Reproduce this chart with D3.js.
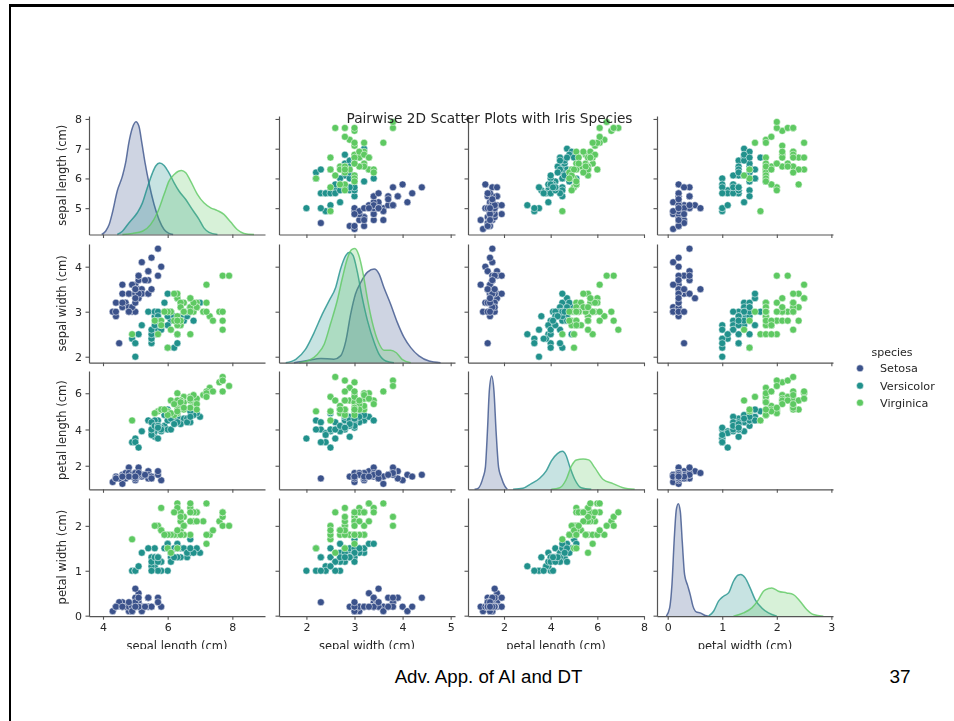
<!DOCTYPE html>
<html>
<head>
<meta charset="utf-8">
<script src="https://d3js.org/d3.v7.min.js"></script>
<style>
  html, body { margin: 0; padding: 0; background: #fff; }
  svg { display: block; }
  text { font-family: "DejaVu Sans", sans-serif; fill: #262626; }
</style>
</head>
<body>
<div id="chart"></div>
<script>
// iris measurements, one array per species and variable
const setosaSepalLength = [5.1,4.9,4.7,4.6,5.0,5.4,4.6,5.0,4.4,4.9,5.4,4.8,4.8,4.3,5.8,5.7,5.4,5.1,5.7,5.1,5.4,5.1,4.6,5.1,4.8,5.0,5.0,5.2,5.2,4.7,4.8,5.4,5.2,5.5,4.9,5.0,5.5,4.9,4.4,5.1,5.0,4.5,4.4,5.0,5.1,4.8,5.1,4.6,5.3,5.0];
const setosaSepalWidth = [3.5,3.0,3.2,3.1,3.6,3.9,3.4,3.4,2.9,3.1,3.7,3.4,3.0,3.0,4.0,4.4,3.9,3.5,3.8,3.8,3.4,3.7,3.6,3.3,3.4,3.0,3.4,3.5,3.4,3.2,3.1,3.4,4.1,4.2,3.1,3.2,3.5,3.6,3.0,3.4,3.5,2.3,3.2,3.5,3.8,3.0,3.8,3.2,3.7,3.3];
const setosaPetalLength = [1.4,1.4,1.3,1.5,1.4,1.7,1.4,1.5,1.4,1.5,1.5,1.6,1.4,1.1,1.2,1.5,1.3,1.4,1.7,1.5,1.7,1.5,1.0,1.7,1.9,1.6,1.6,1.5,1.4,1.6,1.6,1.5,1.5,1.4,1.5,1.2,1.3,1.4,1.3,1.5,1.3,1.3,1.3,1.6,1.9,1.4,1.6,1.4,1.5,1.4];
const setosaPetalWidth = [0.2,0.2,0.2,0.2,0.2,0.4,0.3,0.2,0.2,0.1,0.2,0.2,0.1,0.1,0.2,0.4,0.4,0.3,0.3,0.3,0.2,0.4,0.2,0.5,0.2,0.2,0.4,0.2,0.2,0.2,0.2,0.4,0.1,0.2,0.2,0.2,0.2,0.1,0.2,0.2,0.3,0.3,0.2,0.6,0.4,0.3,0.2,0.2,0.2,0.2];

const versicolorSepalLength = [7.0,6.4,6.9,5.5,6.5,5.7,6.3,4.9,6.6,5.2,5.0,5.9,6.0,6.1,5.6,6.7,5.6,5.8,6.2,5.6,5.9,6.1,6.3,6.1,6.4,6.6,6.8,6.7,6.0,5.7,5.5,5.5,5.8,6.0,5.4,6.0,6.7,6.3,5.6,5.5,5.5,6.1,5.8,5.0,5.6,5.7,5.7,6.2,5.1,5.7];
const versicolorSepalWidth = [3.2,3.2,3.1,2.3,2.8,2.8,3.3,2.4,2.9,2.7,2.0,3.0,2.2,2.9,2.9,3.1,3.0,2.7,2.2,2.5,3.2,2.8,2.5,2.8,2.9,3.0,2.8,3.0,2.9,2.6,2.4,2.4,2.7,2.7,3.0,3.4,3.1,2.3,3.0,2.5,2.6,3.0,2.6,2.3,2.7,3.0,2.9,2.9,2.5,2.8];
const versicolorPetalLength = [4.7,4.5,4.9,4.0,4.6,4.5,4.7,3.3,4.6,3.9,3.5,4.2,4.0,4.7,3.6,4.4,4.5,4.1,4.5,3.9,4.8,4.0,4.9,4.7,4.3,4.4,4.8,5.0,4.5,3.5,3.8,3.7,3.9,5.1,4.5,4.5,4.7,4.4,4.1,4.0,4.4,4.6,4.0,3.3,4.2,4.2,4.2,4.3,3.0,4.1];
const versicolorPetalWidth = [1.4,1.5,1.5,1.3,1.5,1.3,1.6,1.0,1.3,1.4,1.0,1.5,1.0,1.4,1.3,1.4,1.5,1.0,1.5,1.1,1.8,1.3,1.5,1.2,1.3,1.4,1.4,1.7,1.5,1.0,1.1,1.0,1.2,1.6,1.5,1.6,1.5,1.3,1.3,1.3,1.2,1.4,1.2,1.0,1.3,1.2,1.3,1.3,1.1,1.3];

const virginicaSepalLength = [6.3,5.8,7.1,6.3,6.5,7.6,4.9,7.3,6.7,7.2,6.5,6.4,6.8,5.7,5.8,6.4,6.5,7.7,7.7,6.0,6.9,5.6,7.7,6.3,6.7,7.2,6.2,6.1,6.4,7.2,7.4,7.9,6.4,6.3,6.1,7.7,6.3,6.4,6.0,6.9,6.7,6.9,5.8,6.8,6.7,6.7,6.3,6.5,6.2,5.9];
const virginicaSepalWidth = [3.3,2.7,3.0,2.9,3.0,3.0,2.5,2.9,2.5,3.6,3.2,2.7,3.0,2.5,2.8,3.2,3.0,3.8,2.6,2.2,3.2,2.8,2.8,2.7,3.3,3.2,2.8,3.0,2.8,3.0,2.8,3.8,2.8,2.8,2.6,3.0,3.4,3.1,3.0,3.1,3.1,3.1,2.7,3.2,3.3,3.0,2.5,3.0,3.4,3.0];
const virginicaPetalLength = [6.0,5.1,5.9,5.6,5.8,6.6,4.5,6.3,5.8,6.1,5.1,5.3,5.5,5.0,5.1,5.3,5.5,6.7,6.9,5.0,5.7,4.9,6.7,4.9,5.7,6.0,4.8,4.9,5.6,5.8,6.1,6.4,5.6,5.1,5.6,6.1,5.6,5.5,4.8,5.4,5.6,5.1,5.1,5.9,5.7,5.2,5.0,5.2,5.4,5.1];
const virginicaPetalWidth = [2.5,1.9,2.1,1.8,2.2,2.1,1.7,1.8,1.8,2.5,2.0,1.9,2.1,2.0,2.4,2.3,1.8,2.2,2.3,1.5,2.3,2.0,2.0,1.8,2.1,1.8,1.8,1.8,2.1,1.6,1.9,2.0,2.2,1.5,1.4,2.3,2.4,1.8,1.8,2.1,2.4,2.3,1.9,2.3,2.5,2.3,1.9,2.0,2.3,1.8];

// density curves on the diagonal as [value, density]
const kdeSetosaSepalLength = [[3.96,0],[4.08,.012],[4.19,.036],[4.29,.079],[4.44,.158],[4.60,.212],[4.70,.261],[4.80,.334],[4.91,.388],[5.02,.410],[5.11,.394],[5.20,.334],[5.30,.261],[5.42,.188],[5.58,.109],[5.73,.055],[5.89,.018],[6.04,.004],[6.17,0]];
const kdeVersicolorSepalLength = [[4.44,0],[4.60,.012],[4.80,.042],[5.06,.079],[5.22,.115],[5.37,.170],[5.53,.224],[5.63,.249],[5.75,.260],[5.89,.251],[6.04,.224],[6.20,.188],[6.35,.158],[6.56,.127],[6.76,.091],[6.97,.055],[7.12,.024],[7.28,.008],[7.54,0]];
const kdeVirginicaSepalLength = [[4.60,0],[4.91,.004],[5.22,.012],[5.47,.036],[5.68,.079],[5.89,.146],[6.04,.194],[6.20,.218],[6.33,.230],[6.43,.233],[6.56,.224],[6.71,.194],[6.92,.146],[7.12,.115],[7.33,.097],[7.54,.087],[7.74,.073],[7.95,.045],[8.15,.018],[8.36,.004],[8.67,0]];

const kdeSetosaSepalWidth = [[1.74,0],[2.02,.008],[2.30,.015],[2.57,.012],[2.71,.024],[2.82,.077],[2.92,.171],[3.02,.242],[3.13,.283],[3.27,.319],[3.41,.330],[3.51,.313],[3.61,.266],[3.75,.207],[3.89,.142],[4.03,.089],[4.17,.053],[4.34,.024],[4.55,.006],[4.79,0]];
const kdeVersicolorSepalWidth = [[1.57,0],[1.78,.012],[1.98,.047],[2.16,.106],[2.33,.171],[2.47,.218],[2.61,.266],[2.71,.330],[2.82,.378],[2.90,.389],[2.97,.378],[3.06,.319],[3.16,.230],[3.27,.148],[3.41,.071],[3.51,.030],[3.65,.006],[3.82,0]];
const kdeVirginicaSepalWidth = [[1.85,0],[2.05,.008],[2.23,.030],[2.37,.065],[2.50,.136],[2.64,.218],[2.75,.300],[2.85,.366],[2.94,.398],[3.01,.402],[3.09,.378],[3.18,.313],[3.27,.224],[3.37,.142],[3.50,.071],[3.61,.044],[3.75,.044],[3.87,.035],[3.99,.012],[4.17,0]];

const kdeSetosaPetalLength = [[.74,0],[.89,.007],[1.10,.080],[1.20,.149],[1.29,.401],[1.37,.676],[1.47,.779],[1.57,.676],[1.66,.401],[1.77,.149],[1.89,.080],[2.03,.023],[2.14,0]];
const kdeVersicolorPetalLength = [[2.39,0],[2.81,.007],[3.17,.039],[3.53,.076],[3.81,.126],[4.03,.195],[4.29,.245],[4.50,.261],[4.67,.229],[4.81,.160],[5.03,.069],[5.31,.011],[5.74,0]];
const kdeVirginicaPetalLength = [[4.03,0],[4.39,.011],[4.67,.069],[4.89,.160],[5.10,.202],[5.39,.208],[5.63,.202],[5.89,.149],[6.24,.069],[6.67,.039],[7.10,.011],[7.60,0]];

const kdeSetosaPetalWidth = [[-.025,0],[.036,.14],[.078,.534],[.121,1.32],[.158,1.80],[.194,1.90],[.231,1.77],[.267,1.26],[.310,.70],[.365,.52],[.414,.36],[.463,.17],[.524,.073],[.597,.056],[.688,.011],[.749,0]];
const kdeVersicolorPetalWidth = [[.749,0],[.841,.084],[.932,.253],[1.024,.337],[1.115,.393],[1.206,.59],[1.286,.691],[1.341,.703],[1.42,.646],[1.511,.478],[1.603,.281],[1.725,.14],[1.847,.056],[2.0,0]];
const kdeVirginicaPetalWidth = [[1.206,0],[1.389,.056],[1.542,.14],[1.664,.281],[1.755,.422],[1.847,.467],[1.908,.478],[2.03,.422],[2.182,.393],[2.304,.365],[2.426,.253],[2.548,.112],[2.67,.028],[2.853,0]];

const speciesNames = ["Setosa", "Versicolor", "Virginica"];
const variableLabels = ["sepal length (cm)", "sepal width (cm)", "petal length (cm)", "petal width (cm)"];
const xTickValues = [[4, 6, 8], [2, 3, 4, 5], [2, 4, 6, 8], [0, 1, 2, 3]];
const yTickValues = [[5, 6, 7, 8], [2, 3, 4], [2, 4, 6], [0, 1, 2]];

// rows of the arrays above, indexed by species then variable
const measurements = [
  [setosaSepalLength, setosaSepalWidth, setosaPetalLength, setosaPetalWidth],
  [versicolorSepalLength, versicolorSepalWidth, versicolorPetalLength, versicolorPetalWidth],
  [virginicaSepalLength, virginicaSepalWidth, virginicaPetalLength, virginicaPetalWidth]
];
const densities = [
  [kdeSetosaSepalLength, kdeSetosaSepalWidth, kdeSetosaPetalLength, kdeSetosaPetalWidth],
  [kdeVersicolorSepalLength, kdeVersicolorSepalWidth, kdeVersicolorPetalLength, kdeVersicolorPetalWidth],
  [kdeVirginicaSepalLength, kdeVirginicaSepalWidth, kdeVirginicaPetalLength, kdeVirginicaPetalWidth]
];

const colors = ["#3b528b", "#21918c", "#5ec962"];

// panel layout in page pixels
const colRanges = [[89, 265], [279, 455], [468, 644], [657, 833]];
const rowRanges = [[234.5, 116], [362.7, 244], [489.3, 371], [616.2, 498]];
const xDomains = [[3.567, 9.01], [1.43, 5.09], [0.457, 8.0], [-0.196, 3.03]];
const yDomains = [[4.114, 8.1], [1.867, 4.504], [0.70, 7.227], [-0.012, 2.62]];
const densityMax = [0.4306, 0.418, 0.813, 1.995];

const svg = d3.select("#chart")
  .append("svg")
  .attr("width", 954)
  .attr("height", 721);

// slide frame
svg.append("rect").attr("x", 9).attr("y", 4).attr("width", 945).attr("height", 3).attr("fill", "#000");
svg.append("rect").attr("x", 9).attr("y", 4).attr("width", 2).attr("height", 717).attr("fill", "#000");

// the pasted figure is cut off just under the x labels
svg.append("clipPath").attr("id", "figure-clip")
  .append("rect").attr("x", 12).attr("y", 8).attr("width", 942).attr("height", 640.5);

const figure = svg.append("g")
  .attr("clip-path", "url(#figure-clip)")
  .style("filter", "blur(0.5px)");

const xScales = xDomains.map((d, i) => d3.scaleLinear().domain(d).range(colRanges[i]));
const yScales = yDomains.map((d, i) => d3.scaleLinear().domain(d).range(rowRanges[i]));

function styleAxis(g) {
  g.selectAll(".domain").attr("stroke", "#555").attr("stroke-width", 1.2);
  g.selectAll(".tick line").attr("stroke", "#555").attr("stroke-width", 1.1);
  g.selectAll("text").attr("font-size", 11).style("font-family", '"DejaVu Sans", sans-serif').attr("fill", "#333");
}

d3.range(4).forEach(row => {
  d3.range(4).forEach(col => {
    const x = xScales[col];
    const y = yScales[row];
    const panel = figure.append("g");

    if (row === col) {
      // density curves
      const yd = d3.scaleLinear().domain([0, densityMax[row]]).range(rowRanges[row]);
      speciesNames.forEach((name, s) => {
        const pts = densities[s][col];
        panel.append("path")
          .datum(pts)
          .attr("fill", colors[s])
          .attr("fill-opacity", 0.25)
          .attr("d", d3.area().x(d => x(d[0])).y0(yd(0)).y1(d => yd(d[1])).curve(d3.curveMonotoneX));
        panel.append("path")
          .datum(pts)
          .attr("fill", "none")
          .attr("stroke", colors[s])
          .attr("stroke-opacity", 0.8)
          .attr("stroke-width", 1.5)
          .attr("d", d3.line().x(d => x(d[0])).y(d => yd(d[1])).curve(d3.curveMonotoneX));
      });
    } else {
      speciesNames.forEach((name, s) => {
        panel.append("g")
          .selectAll("circle")
          .data(measurements[s][col])
          .join("circle")
          .attr("cx", d => x(d))
          .attr("cy", (d, i) => y(measurements[s][row][i]))
          .attr("r", 3.5)
          .attr("fill", colors[s])
          .attr("stroke", "#fff")
          .attr("stroke-width", 0.5);
      });
    }

    // left and bottom spines, labels only on the outer panels
    panel.append("g")
      .attr("transform", `translate(${colRanges[col][0]},0)`)
      .call(d3.axisLeft(y).tickValues(yTickValues[row]).tickSize(3.5).tickSizeOuter(0).tickPadding(3.5)
        .tickFormat(col === 0 ? d3.format("d") : ""))
      .call(styleAxis);

    panel.append("g")
      .attr("transform", `translate(0,${rowRanges[row][0]})`)
      .call(d3.axisBottom(x).tickValues(xTickValues[col]).tickSize(3.5).tickSizeOuter(0).tickPadding(3.5)
        .tickFormat(row === 3 ? d3.format("d") : ""))
      .call(styleAxis);
  });
});

// axis labels
variableLabels.forEach((label, i) => {
  figure.append("text")
    .attr("transform", `translate(66,${(rowRanges[i][0] + rowRanges[i][1]) / 2}) rotate(-90)`)
    .attr("text-anchor", "middle")
    .attr("font-size", 11.5)
    .text(label);
  figure.append("text")
    .attr("x", (colRanges[i][0] + colRanges[i][1]) / 2)
    .attr("y", 649.5)
    .attr("text-anchor", "middle")
    .attr("font-size", 11.5)
    .text(label);
});

figure.append("text")
  .attr("x", 489.5)
  .attr("y", 123)
  .attr("text-anchor", "middle")
  .attr("font-size", 13.7)
  .text("Pairwise 2D Scatter Plots with Iris Species");

// legend
const legendRows = [368.3, 385.7, 402.7];
figure.append("text")
  .attr("x", 892).attr("y", 355.5)
  .attr("text-anchor", "middle")
  .attr("font-size", 11)
  .text("species");
speciesNames.forEach((name, s) => {
  figure.append("circle")
    .attr("cx", 860).attr("cy", legendRows[s]).attr("r", 3.5)
    .attr("fill", colors[s]).attr("stroke", "#fff").attr("stroke-width", 0.5);
  figure.append("text")
    .attr("x", 880).attr("y", legendRows[s] + 4)
    .attr("font-size", 11.2)
    .text(name);
});

// slide footer
svg.append("text")
  .attr("x", 488.5).attr("y", 683)
  .attr("text-anchor", "middle")
  .style("font-family", '"Liberation Sans", Arial, sans-serif')
  .style("fill", "#000")
  .attr("font-size", 18.7)
  .text("Adv. App. of AI and DT");
svg.append("text")
  .attr("x", 900).attr("y", 683)
  .attr("text-anchor", "middle")
  .style("font-family", '"Liberation Sans", Arial, sans-serif')
  .style("fill", "#000")
  .attr("font-size", 19)
  .text("37");
</script>
</body>
</html>
